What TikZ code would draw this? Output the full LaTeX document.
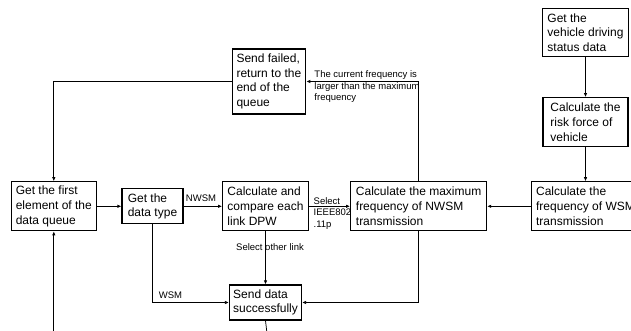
\documentclass[tikz,border=0pt]{standalone}
\usepackage{fontspec}
\setmainfont{Liberation Sans}
\usetikzlibrary{arrows.meta}
\newcommand{\flowfont}{\fontsize{12}{14.7}\selectfont}
\newcommand{\notefont}{\fontsize{9.5}{11.5}\selectfont}

\begin{document}
\begin{tikzpicture}[x=1pt,y=1pt,>={Latex[length=4pt,width=3.4pt]},
    flow/.style = {draw,line width=1.1pt,align=left,inner xsep=3pt,inner ysep=2pt,font=\flowfont},
    note/.style = {font=\notefont,align=left,inner sep=1pt},
    link/.style = {line width=0.75pt}]
      \useasboundingbox (0,0) rectangle (631,331);
      \node[flow,minimum width=85pt,minimum height=49pt] (first) at (53.8,124.7) {Get the first\\element of the\\data queue};
      \node[flow,minimum width=61pt,minimum height=35pt] (type) [node distance=98.7pt,right of=first] {Get the\\data type};
      \node[flow,minimum width=85.6pt,minimum height=49pt] (compare) [node distance=113pt,right of=type] {Calculate and\\compare each\\link DPW};
      \node[flow,minimum width=136pt,minimum height=49pt] (max) [node distance=153.1pt,right of=compare] {Calculate the maximum\\frequency of NWSM\\transmission};
      \node[flow,minimum width=108.6pt,minimum height=49pt] (wsm) [node distance=166.9pt,right of=max] {Calculate the\\frequency of WSM\\transmission};
      \node[flow,minimum width=85pt,minimum height=49pt] (risk) [node distance=84.1pt,above of=wsm] {Calculate the\\risk force of\\vehicle};
      \node[flow,minimum width=85.5pt,minimum height=48pt] (vehicle) [node distance=89.7pt,above of=risk] {Get the\\vehicle driving\\status data};
      \node[flow,minimum width=72pt,minimum height=35pt] (send) [node distance=96.2pt,below of=compare] {Send data\\successfully};
      \node[flow,minimum width=73.7pt,minimum height=65pt] (failed) [node distance=124.8pt,above of=compare,xshift=3.4pt] {Send failed,\\return to the\\end of the\\queue};
      \coordinate (sendout) at (266.7,0);
      \coordinate (loopin) at (53.8,0);
      % main row
      \draw[link,->] (first) -- (type);
      \draw[link,->] (type) -- node[note,pos=0,anchor=south west,xshift=1pt,yshift=3pt]{NWSM} (compare);
      \draw[link,->] (compare) -- node[note,pos=0,anchor=north west,xshift=3.5pt,yshift=10.5pt]{Select\\IEEE802\\.11p} (max);
      \draw[link,->] (wsm) -- (max);
      \draw[link,->] (vehicle) -- (risk);
      \draw[link,->] (risk) -- (wsm);
      % to send data
      \draw[link,->] (compare) -- node[note,pos=0.29,xshift=4.5pt]{Select other link} (send);
      \draw[link,->] (type.south) |- node[note,pos=0.5,anchor=south west,xshift=5pt,yshift=3pt]{WSM} (send.west);
      \draw[link,->] (max.south) |- (send.east);
      % failed loop
      \draw[link,->] (max.north) |- node[note,pos=0.5,anchor=north west,xshift=-105.5pt,yshift=12pt]{The current frequency is\\larger than the maximum\\frequency} (failed.east);
      \draw[link,->] (failed.west) -| (first.north);
      \draw[link] (send.south) -- (sendout);
      \draw[link,->] (loopin) -- (first.south);
    \end{tikzpicture}
\end{document}
